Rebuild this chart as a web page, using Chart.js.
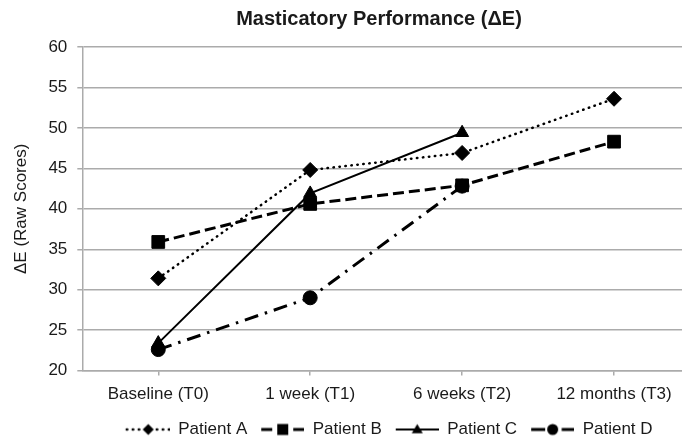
<!DOCTYPE html>
<html><head><meta charset="utf-8">
<script src="https://cdn.jsdelivr.net/npm/chart.js@4"></script>
<style>
html,body{margin:0;padding:0;overflow:hidden;background:#fff;width:682px;height:439px}
#wrap{position:absolute;left:0;top:0;width:758px;height:448px}
</style></head>
<body><div id="wrap"><canvas id="c"></canvas></div>
<script>
const categories = ['Baseline (T0)', '1 week (T1)', '6 weeks (T2)', '12 months (T3)'];
const seriesNames = ['Patient A', 'Patient B', 'Patient C', 'Patient D'];
const patientA = [31.4, 44.8, 46.9, 53.6];
const patientB = [35.9, 40.6, 42.9, 48.3];
const patientC = [23.4, 41.9, 49.4, null];
const patientD = [22.6, 29.0, 42.8, null];
const yTicks = [20, 25, 30, 35, 40, 45, 50, 55, 60];

const FONT = "'Liberation Sans', Arial, sans-serif";
const TEXT = '#1a1a1a';
const GRID = '#ababab';

const styles = [
  {dash: [0.5, 5.5], width: 2.5, cap: 'round', point: 'rectRot', r: 7.5},
  {dash: [11, 5], width: 3, cap: 'butt', point: 'rect', r: 9},
  {dash: [], width: 2, cap: 'butt', point: 'triangle', r: 7.5},
  {dash: [14, 7, 2.5, 7], width: 3, cap: 'butt', point: 'circle', r: 7}
];

function drawMarker(ctx, kind, x, y, r) {
  ctx.beginPath();
  if (kind === 'rectRot') {
    ctx.moveTo(x, y - r); ctx.lineTo(x + r, y); ctx.lineTo(x, y + r); ctx.lineTo(x - r, y);
  } else if (kind === 'rect') {
    ctx.rect(x - r, y - r, 2 * r, 2 * r);
  } else if (kind === 'triangle') {
    ctx.moveTo(x, y - r); ctx.lineTo(x + r, y + r * 0.7); ctx.lineTo(x - r, y + r * 0.7);
  } else {
    ctx.arc(x, y, r, 0, Math.PI * 2);
  }
  ctx.closePath();
  ctx.fill();
}

// legend symbol: 6px blank on the left (item spacing), then a 43px line sample with marker
function makeSymbol(st) {
  const c = document.createElement('canvas');
  c.width = 50; c.height = 18;
  const g = c.getContext('2d');
  g.strokeStyle = '#000'; g.fillStyle = '#000';
  g.lineWidth = st.width; g.lineCap = st.cap;
  g.setLineDash(st.dash);
  g.beginPath(); g.moveTo(7, 9); g.lineTo(50, 9); g.stroke();
  g.setLineDash([]);
  drawMarker(g, st.point, 28.5, 9, 5.5);
  return c;
}

const seriesData = [patientA, patientB, patientC, patientD];
const datasets = seriesData.map((d, i) => ({
  label: seriesNames[i],
  data: d,
  borderColor: '#000',
  backgroundColor: '#000',
  borderWidth: styles[i].width,
  borderDash: styles[i].dash,
  borderCapStyle: styles[i].cap,
  pointStyle: styles[i].point,
  pointRadius: styles[i].r,
  pointHoverRadius: styles[i].r,
  pointBackgroundColor: '#000',
  pointBorderColor: '#000',
  pointBorderWidth: 1,
  tension: 0,
  fill: false,
  spanGaps: false
}));
const symbols = styles.map(makeSymbol);

new Chart(document.getElementById('c'), {
  type: 'line',
  data: {labels: categories, datasets},
  options: {
    responsive: true,
    maintainAspectRatio: false,
    animation: false,
    layout: {padding: 0},
    plugins: {
      tooltip: {enabled: false},
      title: {
        display: true,
        text: 'Masticatory Performance (ΔE)',
        color: TEXT,
        font: {family: FONT, size: 20, weight: 'bold'},
        padding: {top: 7, bottom: 16}
      },
      legend: {
        position: 'bottom',
        fullSize: false,
        labels: {
          usePointStyle: true,
          pointStyleWidth: 50,
          padding: 7,
          color: TEXT,
          font: {family: FONT, size: 17},
          generateLabels: (chart) => chart.data.datasets.map((ds, i) => ({
            text: ds.label,
            pointStyle: symbols[i],
            datasetIndex: i,
            hidden: false,
            lineWidth: 0,
            fillStyle: 'rgba(0,0,0,0)',
            strokeStyle: 'rgba(0,0,0,0)',
            fontColor: TEXT
          }))
        }
      }
    },
    scales: {
      x: {
        offset: true,
        grid: {offset: false, drawOnChartArea: false, drawTicks: true, tickLength: 5, color: GRID, lineWidth: 1.5},
        border: {display: true, color: GRID, width: 1.5},
        ticks: {color: TEXT, font: {family: FONT, size: 17}, padding: 9, autoSkip: false, maxRotation: 0}
      },
      y: {
        min: 20, max: 60,
        afterBuildTicks: (axis) => { axis.ticks = yTicks.map(v => ({value: v})); },
        grid: {color: GRID, lineWidth: 1.5, tickLength: 5},
        border: {display: true, color: GRID, width: 1.5},
        ticks: {color: TEXT, font: {family: FONT, size: 17}, padding: 10},
        title: {
          display: true,
          text: 'ΔE (Raw Scores)',
          color: TEXT,
          font: {family: FONT, size: 17},
          padding: {top: 11, bottom: 7}
        }
      },
      yR: {
        type: 'linear',
        position: 'right',
        display: true,
        min: 20, max: 60,
        grid: {display: false, drawTicks: false},
        border: {display: false},
        ticks: {display: false},
        afterFit: (axis) => { axis.width = 68; }
      }
    }
  }
});
</script>
</body></html>
